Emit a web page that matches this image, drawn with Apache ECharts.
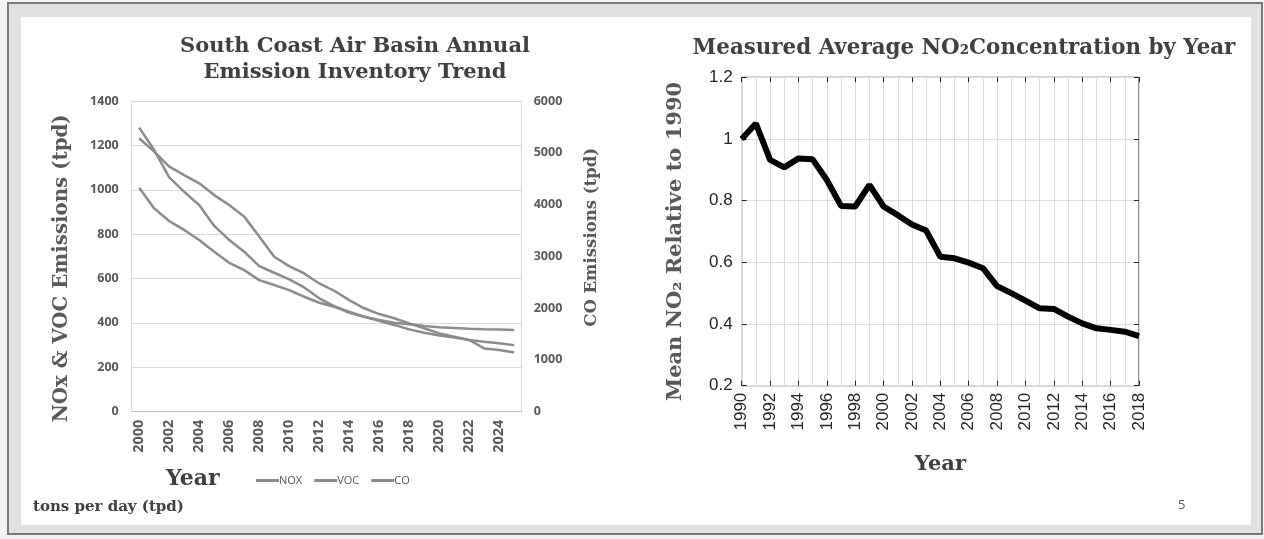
<!DOCTYPE html>
<html><head><meta charset="utf-8">
<script src="https://cdn.jsdelivr.net/npm/echarts@6/dist/echarts.min.js"></script>
<style>html,body{margin:0;padding:0;background:#f4f4f4;}#c{width:1264px;height:539px;}</style>
</head><body><div id="c"></div>
<script>
// ---- Left chart data (tons per day) ----
const emissionYears = ['2000','2001','2002','2003','2004','2005','2006','2007','2008','2009','2010','2011','2012','2013','2014','2015','2016','2017','2018','2019','2020','2021','2022','2023','2024','2025'];
const noxTpd = [1232,1172,1104,1066,1029,976,931,879,789,698,656,623,578,545,503,466,440,421,398,376,353,338,323,285,278,267];
const vocTpd = [1009,916,859,819,774,721,671,638,593,571,548,518,491,473,451,428,410,391,371,356,343,334,323,315,308,300];
const coTpd  = [5486,5053,4526,4247,3990,3587,3317,3090,2811,2683,2554,2400,2190,2040,1911,1834,1770,1719,1689,1654,1629,1616,1603,1594,1586,1577];
const seriesNames = ['NOX','VOC','CO'];

// ---- Right chart data ----
const no2Years = [1990,1991,1992,1993,1994,1995,1996,1997,1998,1999,2000,2001,2002,2003,2004,2005,2006,2007,2008,2009,2010,2011,2012,2013,2014,2015,2016,2017,2018];
const no2Relative = [1.0,1.05,0.932,0.908,0.937,0.934,0.867,0.783,0.781,0.851,0.781,0.753,0.723,0.703,0.618,0.613,0.599,0.581,0.523,0.5,0.476,0.451,0.449,0.424,0.402,0.386,0.381,0.375,0.361];

const leftTitle = 'South Coast Air Basin Annual\nEmission Inventory Trend';
const rightTitle = 'Measured Average NO\u2082Concentration by Year';
const footNote = 'tons per day (tpd)';
const pageNum = '5';

const serif = '"DejaVu Serif", serif';
const sans = '"Open Sans", sans-serif';
const arial = '"Liberation Sans", Arial, sans-serif';
const lineGray = '#8c8c8c';

const chart = echarts.init(document.getElementById('c'), null, {renderer:'canvas'});
chart.setOption({
  backgroundColor: '#f4f4f4',
  animation: false,
  graphic: [
    {type:'rect', z:-10, shape:{x:8,y:3,width:1254,height:531}, style:{fill:'#e1e1e1', stroke:'#7a7a7a', lineWidth:2}},
    {type:'rect', z:-9, shape:{x:21,y:17,width:1230,height:508}, style:{fill:'#ffffff'}},
    {type:'text', left:33, top:500, style:{text:footNote, font:'bold 15px '+serif, fill:'#404040'}},
    {type:'text', left:1178, top:499, style:{text:pageNum, font:'13px '+sans, fill:'#595959'}},
    {type:'text', left:166, top:468, style:{text:'Year', font:'bold 22px '+serif, fill:'#404040'}}
  ],
  title: [
    {text: leftTitle, left: 350, top: 29, textAlign:'center',
     textStyle:{fontFamily:serif, fontWeight:'bold', fontSize:21, color:'#404040', lineHeight:26}},
    {text: rightTitle, left: 959, top: 33, textAlign:'center',
     textStyle:{fontFamily:serif, fontWeight:'bold', fontSize:21.4, color:'#404040'}}
  ],
  legend: {
    data: seriesNames, left: 251, top: 470, icon:'rect', itemWidth:23, itemHeight:3, itemGap:12,
    textStyle:{fontFamily:sans, fontSize:11, color:'#595959', padding:[0,0,0,-5]}
  },
  grid: [
    {left:131.7, top:101, width:390, height:310.7},
    {left:741.7, top:77.3, width:397.3, height:308.4, show:true, borderColor:'#262626', borderWidth:1, backgroundColor:'transparent'}
  ],
  xAxis: [
    {gridIndex:0, type:'category', data: emissionYears, boundaryGap:true,
     axisLine:{lineStyle:{color:'#bfbfbf'}},
     axisTick:{interval:1, length:5, lineStyle:{color:'#bfbfbf'}},
     axisLabel:{interval:1, rotate:90, margin:8, fontFamily:sans, fontWeight:'bold', fontSize:14.5, color:'#595959'}},
    {gridIndex:1, type:'value', min:1990, max:2018, interval:2,
     name:'Year', nameLocation:'middle', nameGap:68,
     nameTextStyle:{fontFamily:serif, fontWeight:'bold', fontSize:21, color:'#404040'},
     axisLine:{show:false}, axisTick:{inside:true, length:5, lineStyle:{color:'#262626'}},
     minorTick:{show:false, splitNumber:2},
     splitLine:{show:true, lineStyle:{color:'#dcdcdc'}},
     minorSplitLine:{show:true, lineStyle:{color:'#dcdcdc'}},
     axisLabel:{rotate:90, margin:7, fontFamily:arial, fontSize:17, color:'#262626', formatter: v => String(v)}},
    {gridIndex:1, type:'value', position:'top', min:1990, max:2018, interval:2,
     axisLine:{show:false}, axisTick:{inside:true, length:5, lineStyle:{color:'#262626'}},
     axisLabel:{show:false}, splitLine:{show:false}}
  ],
  yAxis: [
    {gridIndex:0, type:'value', min:0, max:1400, interval:200,
     name:'NOx & VOC Emissions (tpd)', nameLocation:'middle', nameRotate:90, nameGap:60,
     nameTextStyle:{fontFamily:serif, fontWeight:'bold', fontSize:19.8, color:'#595959', padding:[0,24,0,0]},
     axisLine:{show:true, lineStyle:{color:'#d9d9d9'}}, axisTick:{show:false},
     splitLine:{lineStyle:{color:'#d9d9d9'}},
     axisLabel:{margin:13, fontFamily:sans, fontWeight:'bold', fontSize:12.5, color:'#595959', formatter: v => String(v)}},
    {gridIndex:0, type:'value', position:'right', min:0, max:6000, interval:1000,
     name:'CO Emissions (tpd)', nameLocation:'middle', nameRotate:90, nameGap:62,
     nameTextStyle:{fontFamily:serif, fontWeight:'bold', fontSize:16.5, color:'#595959', padding:[0,0,0,38]},
     axisLine:{show:true, lineStyle:{color:'#d9d9d9'}}, axisTick:{show:false},
     splitLine:{show:false},
     axisLabel:{margin:12, fontFamily:sans, fontWeight:'bold', fontSize:12.5, color:'#595959', formatter: v => String(v)}},
    {gridIndex:1, type:'value', min:0.2, max:1.2, interval:0.2,
     name:'Mean NO\u2082 Relative to 1990', nameLocation:'middle', nameRotate:90, nameGap:56,
     nameTextStyle:{fontFamily:serif, fontWeight:'bold', fontSize:21, color:'#595959', padding:[0,20,0,0]},
     axisLine:{show:false}, axisTick:{inside:true, length:5, lineStyle:{color:'#262626'}},
     splitLine:{lineStyle:{color:'#dcdcdc'}},
     axisLabel:{margin:9, fontFamily:arial, fontSize:17, color:'#262626',
       formatter: v => String(Math.round(v*10)/10)}},
    {gridIndex:1, type:'value', position:'right', min:0.2, max:1.2, interval:0.2,
     axisLine:{show:false}, axisTick:{inside:true, length:5, lineStyle:{color:'#262626'}},
     axisLabel:{show:false}, splitLine:{show:false}}
  ],
  series: [
    {name:'NOX', type:'line', xAxisIndex:0, yAxisIndex:0, data: noxTpd, showSymbol:false, symbol:'none',
     lineStyle:{color:lineGray, width:2.5}, itemStyle:{color:lineGray}},
    {name:'VOC', type:'line', xAxisIndex:0, yAxisIndex:0, data: vocTpd, showSymbol:false, symbol:'none',
     lineStyle:{color:lineGray, width:2.5}, itemStyle:{color:lineGray}},
    {name:'CO', type:'line', xAxisIndex:0, yAxisIndex:1, data: coTpd, showSymbol:false, symbol:'none',
     lineStyle:{color:lineGray, width:2.5}, itemStyle:{color:lineGray}},
    {name:'NO2', type:'line', xAxisIndex:1, yAxisIndex:2, showSymbol:false, symbol:'none',
     data: no2Years.map((y,i)=>[y, no2Relative[i]]),
     lineStyle:{color:'#000000', width:6}, itemStyle:{color:'#000'}}
  ]
});
</script></body></html>
